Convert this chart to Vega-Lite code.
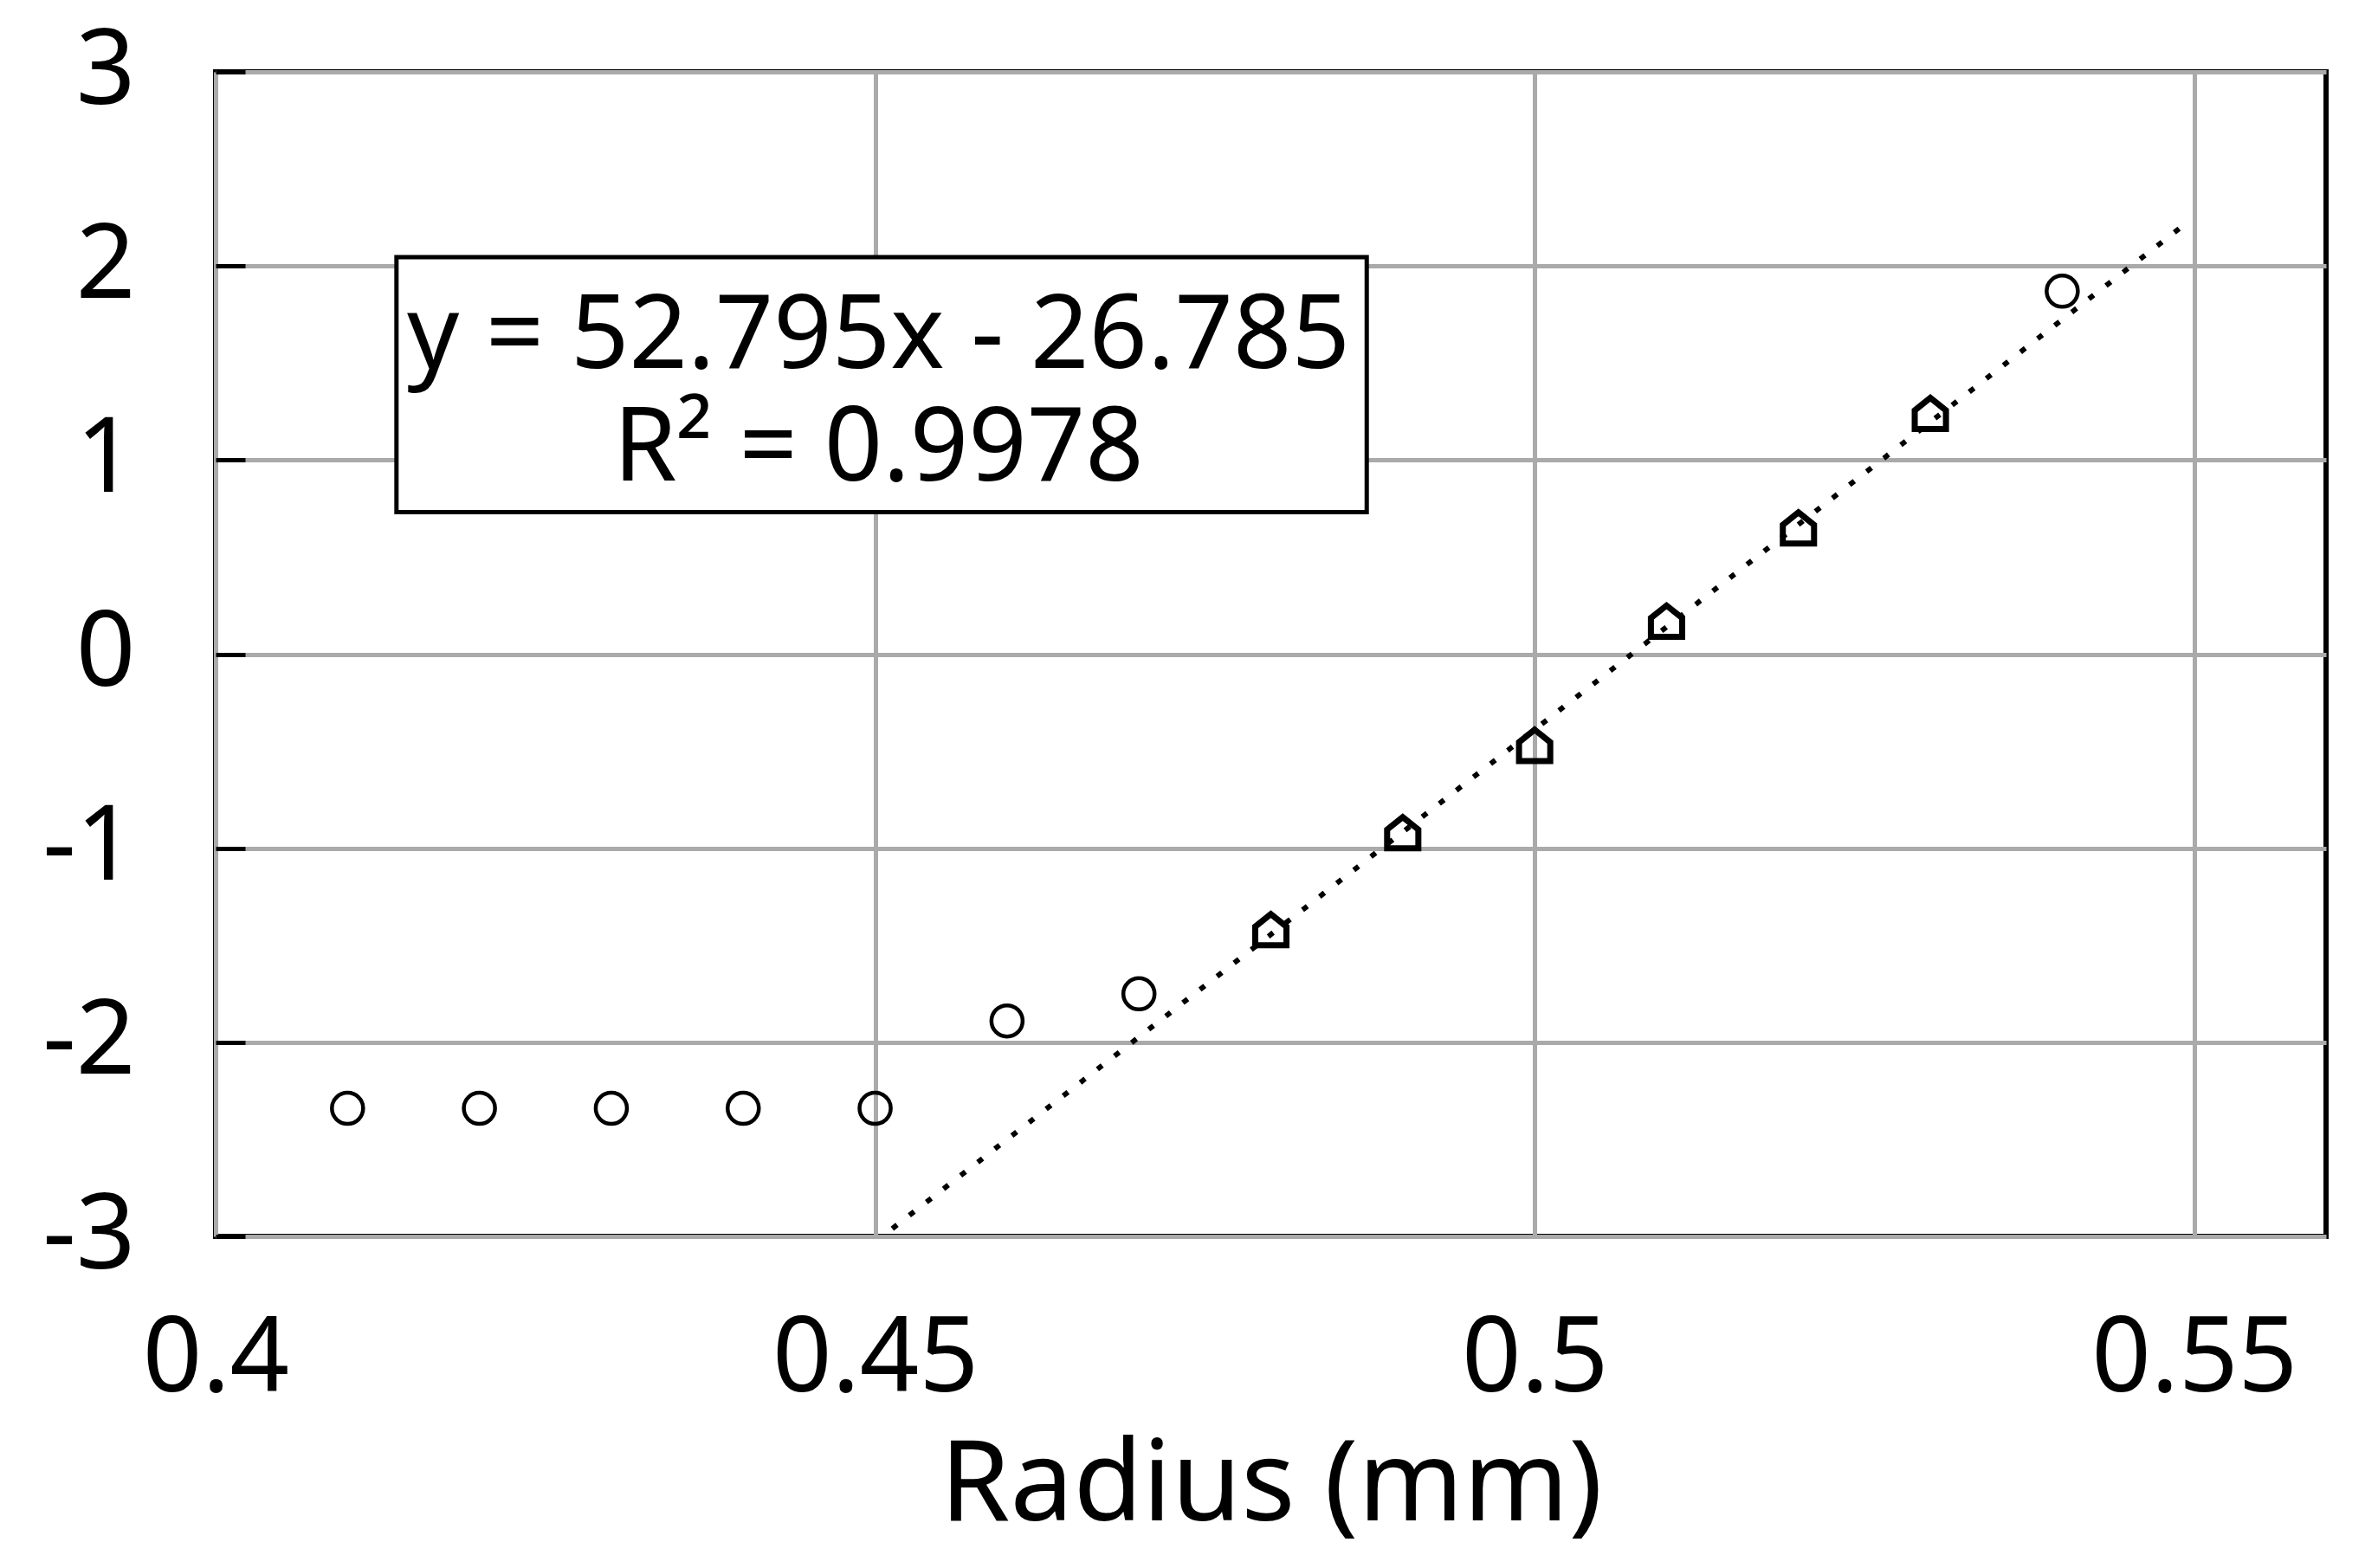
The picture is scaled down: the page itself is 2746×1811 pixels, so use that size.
{
  "$schema": "https://vega.github.io/schema/vega-lite/v6.json",
  "autosize": {"type": "none"},
  "width": 2437,
  "height": 1345,
  "padding": {"left": 249, "top": 83, "right": 60, "bottom": 383},
  "background": "white",
  "config": {
    "font": "Noto Sans",
    "view": {"stroke": "black", "strokeWidth": 6},
    "axis": {"gridColor": "#aaaaaa", "gridWidth": 5, "domain": false, "labelColor": "black", "titleColor": "black", "labelLimit": 0}
  },
  "datasets": {
    "points": [
      {"radius": 0.41, "value": -2.34, "series": "excluded"},
      {"radius": 0.42, "value": -2.34, "series": "excluded"},
      {"radius": 0.43, "value": -2.34, "series": "excluded"},
      {"radius": 0.44, "value": -2.34, "series": "excluded"},
      {"radius": 0.45, "value": -2.34, "series": "excluded"},
      {"radius": 0.46, "value": -1.89, "series": "excluded"},
      {"radius": 0.47, "value": -1.75, "series": "excluded"},
      {"radius": 0.48, "value": -1.42, "series": "fitted"},
      {"radius": 0.49, "value": -0.92, "series": "fitted"},
      {"radius": 0.50, "value": -0.47, "series": "fitted"},
      {"radius": 0.51, "value": 0.17, "series": "fitted"},
      {"radius": 0.52, "value": 0.65, "series": "fitted"},
      {"radius": 0.53, "value": 1.24, "series": "fitted"},
      {"radius": 0.54, "value": 1.87, "series": "excluded"}
    ],
    "trend": [
      {"radius": 0.4513, "value": -2.96},
      {"radius": 0.549, "value": 2.199}
    ],
    "box": [
      {"x1": 0.41371, "x2": 0.48727, "y1": 2.045, "y2": 0.732}
    ],
    "labels": [
      {"x": 0.45026, "y": 1.473, "text": "y = 52.795x - 26.785"},
      {"x": 0.45026, "y": 0.893, "text": "R² = 0.9978"}
    ]
  },
  "layer": [
    {
      "data": {"name": "trend"},
      "mark": {"type": "line", "color": "black", "strokeWidth": 6, "strokeDash": [7, 18], "strokeCap": "butt"},
      "encoding": {
        "x": {
          "field": "radius", "type": "quantitative",
          "scale": {"domain": [0.4, 0.56], "nice": false, "zero": false},
          "axis": {
            "values": [0.4, 0.45, 0.5, 0.55],
            "labelExpr": "'' + datum.value",
            "ticks": false,
            "labelFontSize": 120,
            "labelPadding": 83,
            "labelFlush": false,
            "labelOverlap": false,
            "title": "Radius (mm)",
            "titleFontSize": 130,
            "titleFontWeight": "normal",
            "titlePadding": 24
          }
        },
        "y": {
          "field": "value", "type": "quantitative",
          "scale": {"domain": [-3, 3], "nice": false, "zero": false},
          "axis": {
            "values": [-3, -2, -1, 0, 1, 2, 3],
            "labelExpr": "'' + datum.value",
            "ticks": true,
            "tickSize": -34,
            "tickColor": "black",
            "tickWidth": 5,
            "labelFontSize": 120,
            "labelPadding": 127,
            "labelFlush": false,
            "labelOverlap": false,
            "title": null
          }
        }
      }
    },
    {
      "data": {"name": "box"},
      "mark": {"type": "rect", "fill": "white", "stroke": "black", "strokeWidth": 5},
      "encoding": {
        "x": {"field": "x1", "type": "quantitative"},
        "x2": {"field": "x2"},
        "y": {"field": "y1", "type": "quantitative"},
        "y2": {"field": "y2"}
      }
    },
    {
      "data": {"name": "labels"},
      "mark": {"type": "text", "fontSize": 118, "align": "center", "baseline": "alphabetic", "color": "black"},
      "encoding": {
        "x": {"field": "x", "type": "quantitative"},
        "y": {"field": "y", "type": "quantitative"},
        "text": {"field": "text"}
      }
    },
    {
      "data": {"name": "points"},
      "mark": {"type": "point", "filled": false, "stroke": "black", "opacity": 1},
      "encoding": {
        "x": {"field": "radius", "type": "quantitative"},
        "y": {"field": "value", "type": "quantitative"},
        "shape": {
          "field": "series", "type": "nominal",
          "scale": {"domain": ["excluded", "fitted"], "range": ["circle", "M-1,1L1,1L1,-0.2L0,-1L-1,-0.2Z"]},
          "legend": null
        },
        "size": {
          "field": "series", "type": "nominal",
          "scale": {"domain": ["excluded", "fitted"], "range": [1300, 1300]},
          "legend": null
        },
        "strokeWidth": {
          "field": "series", "type": "nominal",
          "scale": {"domain": ["excluded", "fitted"], "range": [4.5, 7]},
          "legend": null
        }
      }
    }
  ]
}
